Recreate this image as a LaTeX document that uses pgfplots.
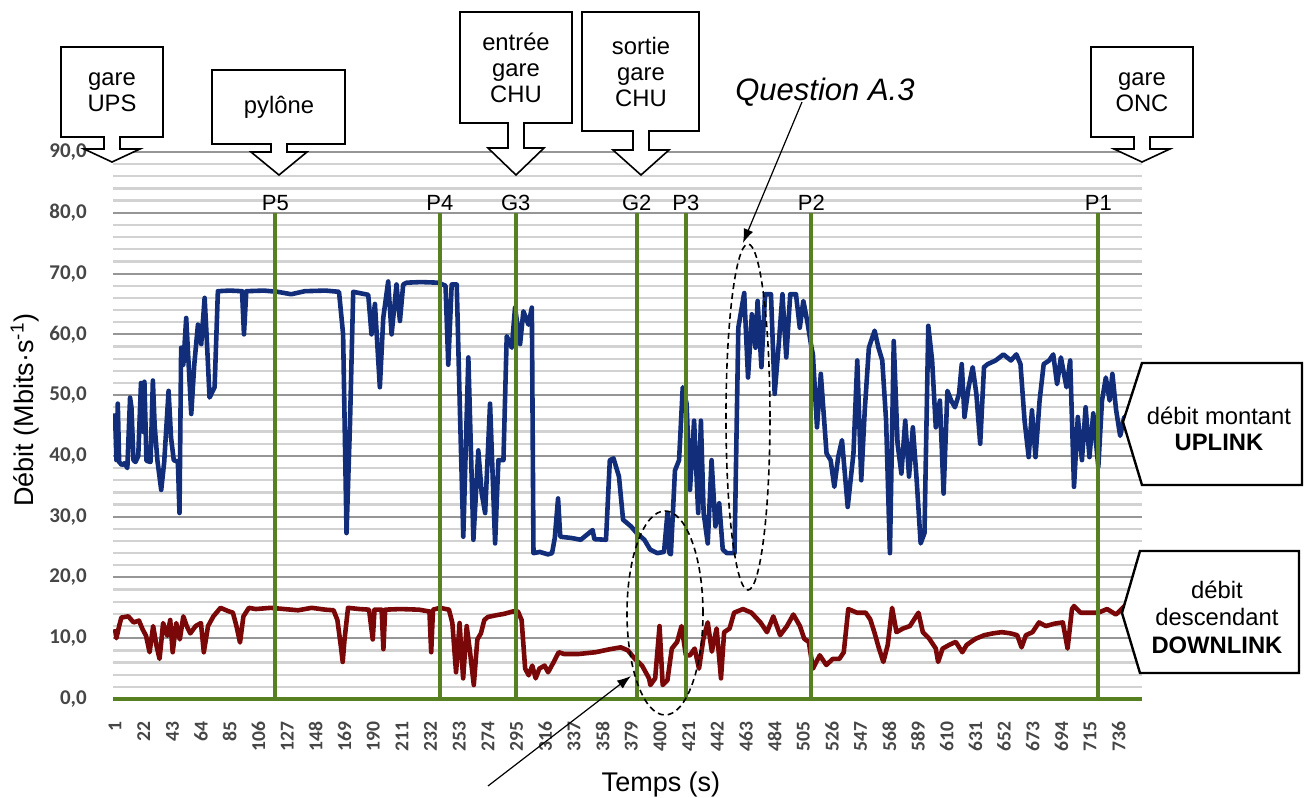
\documentclass[border=0pt]{standalone}
\usepackage{fontspec}
\setmainfont{Liberation Sans}
\newfontfamily\tickfont{Carlito}
\usepackage{pgfplots}
\pgfplotsset{compat=1.18}
\usetikzlibrary{arrows.meta}

\definecolor{upblue}{RGB}{18,46,122}
\definecolor{downred}{RGB}{122,8,8}
\definecolor{pgreen}{RGB}{86,128,34}
\definecolor{majgrid}{RGB}{150,150,150}
\definecolor{mingrid}{RGB}{210,210,210}
\definecolor{ticktext}{RGB}{70,70,70}

\newcommand\boxfont{\fontsize{11.9bp}{13bp}\selectfont}
\newcommand\pfont{\fontsize{11bp}{12bp}\selectfont}
% callout: L, R, T, B, centre, head top, tip, text
\newcommand\callout[8]{%
  \draw[line width=0.8bp, fill=white] (#1,#3) -- (#2,#3) -- (#2,#4) -- ({#5+8},#4) -- ({#5+8},#6)
    -- ({#5+28},#6) -- (#5,#7) -- ({#5-28},#6) -- ({#5-8},#6) -- ({#5-8},#4) -- (#1,#4) -- cycle;
  \node[align=center, font=\boxfont] at ({#5},{(#3+#4)/2}) {#8};
}

\begin{document}
\begin{tikzpicture}
\useasboundingbox (0,0) rectangle (654bp,-399bp);
\begin{axis}[
  at={(56.5bp,-349.5bp)}, anchor=south west,
  scale only axis, width=514.5bp, height=273.5bp,
  xmin=-0.5, xmax=753, ymin=0, ymax=90,
  axis x line=bottom, axis y line=left,
  x axis line style={-, pgreen, line width=1.6bp},
  y axis line style={draw=none},
  tick style={draw=none},
  xtick={1,22,...,736},
  ytick={0,10,...,90},
  minor ytick={2,4,6,8,12,14,16,18,22,24,26,28,32,34,36,38,42,44,46,48,52,54,56,58,62,64,66,68,72,74,76,78,82,84,86,88},
  ymajorgrids, yminorgrids,
  major grid style={majgrid, line width=1bp},
  minor grid style={mingrid, line width=1.15bp},
  /pgf/number format/assume math mode=true,
  yticklabel style={font=\tickfont\bfseries\fontsize{10.5bp}{12bp}\selectfont, text=ticktext, xshift=-7.5bp,
    /pgf/number format/.cd, fixed, fixed zerofill, precision=1, use comma},
  xticklabel style={font=\tickfont\bfseries\fontsize{9.8bp}{11bp}\selectfont, text=ticktext, yshift=-5.5bp, rotate=90, anchor=east},
]
% UPLINK
\addplot[upblue, line width=2.3bp, line join=round] coordinates {
(1,47) (2,39.3) (3,48.6) (4,39.0) (6,38.5) (8,38.8) (10,38.0) (12,49.6) (13,48) (14.5,39.3)
(16,39) (18,40) (20,52) (21.3,44) (22.5,52.2) (24,39.2) (27,39) (28.7,52.4) (30,45) (32,39.3)
(34.8,34.4) (37,39) (40.2,50.7) (42,43) (44,39.3) (47,39) (48.2,30.6) (49.4,57.8) (51,55) (53.1,62.7)
(56.8,46.9) (59,55) (61.7,61.6) (64.1,58.4) (66.6,66) (68,60) (70.2,49.6) (73.9,51.3) (76.3,67.1) (85,67.2)
(94,67.1) (95.4,60) (97.1,67.1) (110,67.2) (120,67) (130,66.6) (140,67.1) (155,67.2) (165,67) (168,60)
(170.5,27.3) (173,45) (175.4,67) (186.4,66.5) (188.8,60) (191.3,65) (194.9,51.3) (197.4,62.7) (201,68.7) (203.5,60)
(207.1,68.2) (209.6,62.2) (212,68.2) (214.5,68.5) (225,68.6) (237.7,68.5) (243,68) (245,55) (247.5,68.2) (251.2,68.2)
(253.6,46.9) (256,26.7) (259.7,56.2) (263.4,26.2) (267,40.9) (269.5,33.8) (272,30.6) (275.6,48.6) (279.3,25.6) (281.7,39.3)
(285.4,39.3) (287.8,59.7) (291.5,57.8) (293.9,64.4) (297.6,58.4) (300,63.8) (303.7,61.6) (306.2,64.4) (307.4,24) (312,24.2)
(318,23.8) (321,24) (323,26.5) (325.4,33) (327,26.7) (335,26.5) (342,26.2) (350.7,27.8) (352,26.3) (360.5,26.2)
(363.3,39.3) (366,39.6) (370,36.6) (373,29.5) (378.8,28.4) (383,27.3) (388.6,26.2) (392.8,24.6) (398,24) (403,24.2)
(405.5,30.6) (407,24) (408,23.8) (411,37.6) (414,39.3) (416.7,51.3) (419.5,48.6) (422,34.4) (425,45.8) (428,30.6)
(430,45.8) (432,30.6) (435,25.6) (437.8,39.3) (440.6,28.4) (443.4,32.2) (446,24.6) (449,24) (454.6,24) (457.4,61.1)
(461.7,66.8) (464.5,52.9) (467.3,63.3) (470,57.8) (471.5,65.5) (474.3,54.6) (477,66.6) (481.3,66.6) (484,50.2) (487,58.4)
(489.7,66.6) (492.5,56.2) (495.4,66.6) (499.6,66.6) (502.4,61.1) (505,65.5) (508,62) (511,57.8) (512,56.7) (515,44.7)
(517.8,53.5) (522,40.4) (525,39.3) (527.7,34.9) (530.5,39.8) (533.3,42.6) (537.5,31.6) (541.7,40.4) (544.5,55.7) (547.4,36)
(550,47.6) (553,57.8) (557.2,60.6) (560,57.8) (562.8,55.7) (565.6,45.8) (568.4,24) (571.2,58.9) (574,42) (576.8,37.1)
(579.6,45.8) (582.4,36.6) (585.2,44.7) (588,36) (590.9,25.6) (593.7,27.3) (596.5,61.4) (599.3,55.7) (602,44.7) (605,49.1)
(607.7,33.8) (610.5,50.7) (613.3,49.1) (616,48) (619,50.2) (621,55.1) (623,46.4) (626,51.3) (629,54.6) (631.7,50.2)
(634.5,42) (637.3,54.6) (640,55.1) (645.8,55.7) (651.5,56.7) (657,55.7) (661,56.7) (664,55.1) (667,45.8) (670,39.8)
(672.4,47.5) (675,39.8) (678,49.1) (681,55.1) (685,55.7) (688,56.7) (690.8,51.8) (693.6,56.2) (697.7,51.3) (700.4,55.7)
(703.2,34.9) (706,46.4) (709,39.3) (711.7,48) (714.5,39.8) (717.3,47) (721,38.2) (723.7,49.1) (726.5,52.9) (729.3,49.1)
(731.3,53.5) (734,47.6) (737,43.3) (740,46.4) (744,45.2) (749,45.8) (751,45.3)
};
% DOWNLINK
\addplot[downred, line width=2.3bp, line join=round] coordinates {
(1,11.5) (2,10) (4,12) (5.6,13.4) (10.7,13.6) (14.6,12.6) (18.5,12.9) (21.1,11.5) (23.7,10.4) (26.3,7.7)
(28.9,12) (31.5,8.6) (33.6,6.6) (36.2,12.5) (39.3,10.4) (41.4,13) (43.2,7.7) (45.8,12.5) (48.4,9.8) (51,13.6)
(53.5,12) (56.1,10.8) (60,12) (63.9,12.5) (66,7.7) (69.1,12) (73,13.6) (78.2,15) (83.4,14.5) (87.3,14.2)
(89.9,12) (92.5,9.3) (95,13.6) (99,15) (104,14.8) (115,15) (125,14.8) (135,14.6) (145,15) (155,14.7)
(161,14.6) (163.8,13) (166.4,8.6) (167.7,6.1) (169,9.7) (171.6,15) (180,14.8) (187,14.7) (189.7,9.8) (191,14.7)
(196.2,14.7) (197.5,8.2) (198.8,14.7) (210,14.8) (223.5,14.7) (231.2,14.4) (232.5,7.7) (233.8,14.7) (239,15) (245.5,14.7)
(248,12.5) (250.7,4.4) (253.3,12.5) (254.6,7.6) (255.9,3.4) (258.5,12) (261,7.6) (263.7,2.3) (266.3,9.8) (268.9,10.8)
(271.4,13) (274,13.5) (280.5,13.8) (285.7,14) (292.2,14.4) (296,14.4) (298.7,13) (301.3,5) (303.9,3.9) (306.5,5.5)
(309,3.4) (311.7,5) (315.5,5.5) (318.1,4.4) (322,6) (325.9,7.7) (329.8,7.4) (340.2,7.4) (353,7.7) (363.5,8.2)
(371.3,8.5) (376.5,8) (381.7,6.6) (386.9,5.5) (392,3.4) (393,2.3) (396.5,3.4) (399.7,12) (402,2.3) (405.5,3.1)
(408.7,8.3) (412.6,9.4) (415.8,12) (419,7.2) (422,7.2) (425.4,8.3) (428.6,5) (431.8,9.9) (435,12.6) (438,7.8)
(441.5,11.6) (444.7,3.4) (447,11) (451,11.6) (454.3,14.2) (460.8,14.8) (467,14.2) (473.6,12.6) (478.4,11) (483,13.6)
(488,10.5) (493,12) (497.7,13.9) (502.5,12) (505.7,9.9) (509,9.4) (512,5) (517,7.2) (521.8,5.6) (526.6,6.6)
(531.4,6.6) (534.6,7.7) (537.9,14.8) (544.3,14.2) (550.7,14.2) (554,13.1) (557,11) (560.4,8.3) (563.6,6.1) (566.8,8.9)
(570,15) (573.2,11) (578,11.6) (583,12) (589.3,14.2) (592.5,11) (597.3,9.9) (602,8.3) (603.7,6.1) (607,8.3)
(611.8,8.9) (616.6,9.4) (621.4,7.7) (624.6,8.9) (631,9.9) (637.5,10.5) (643.9,10.8) (650.3,11) (656.7,10.8) (661.6,10.5)
(664.8,8.5) (668,10.5) (672.8,11) (677.6,12.6) (682.5,12) (689,12.4) (695,12.6) (698.5,8.3) (701.7,14.8) (703.2,15.3)
(708,14.2) (714.4,14.2) (721,14.2) (727.4,14.8) (733.9,13.9) (740.3,15.3) (745,16.4) (748.2,16.4) (751,16)
};
% position markers
\addplot[pgreen, line width=2.1bp] coordinates {(118.4,0) (118.4,80)};
\addplot[pgreen, line width=2.1bp] coordinates {(238.9,0) (238.9,80)};
\addplot[pgreen, line width=2.1bp] coordinates {(294.4,0) (294.4,80)};
\addplot[pgreen, line width=2.1bp] coordinates {(383,0) (383,80)};
\addplot[pgreen, line width=2.1bp] coordinates {(419,0) (419,80)};
\addplot[pgreen, line width=2.1bp] coordinates {(510.9,0) (510.9,80)};
\addplot[pgreen, line width=2.1bp] coordinates {(721,0) (721,80)};
\node[font=\pfont, above, inner sep=1bp] at (axis cs:118.4,80) {P5};
\node[font=\pfont, above, inner sep=1bp] at (axis cs:238.9,80) {P4};
\node[font=\pfont, above, inner sep=1bp] at (axis cs:294.4,80) {G3};
\node[font=\pfont, above, inner sep=1bp] at (axis cs:383,80) {G2};
\node[font=\pfont, above, inner sep=1bp] at (axis cs:419,80) {P3};
\node[font=\pfont, above, inner sep=1bp] at (axis cs:510.9,80) {P2};
\node[font=\pfont, above, inner sep=1bp] at (axis cs:721,80) {P1};
\end{axis}

\begin{scope}[x=0.5bp, y=-0.5bp]
\callout{61}{163}{47}{137}{112}{149}{162}{gare\\UPS}
\callout{212}{345}{70}{144}{279}{152}{175}{pylône}
\callout{460}{572}{12}{123}{516}{148}{175}{entrée\\gare\\CHU}
\callout{582}{699}{12}{131}{641}{150}{175}{sortie\\gare\\CHU}
\callout{1091}{1193}{47}{137}{1142}{149}{162}{gare\\ONC}

\draw[line width=1.2bp, fill=white] (1123,422) -- (1142,363) -- (1302,363) -- (1302,485) -- (1142,485) -- cycle;
\node[align=center, font=\boxfont] at (1219,429) {débit montant\\\textbf{UPLINK}};
\draw[line width=1.2bp, fill=white] (1122,613) -- (1140,551) -- (1299,551) -- (1299,673) -- (1140,673) -- cycle;
\node[align=center, font=\fontsize{11.9bp}{13.8bp}\selectfont] at (1217,617) {débit\\descendant\\\textbf{DOWNLINK}};

\node[font=\itshape\fontsize{15.5bp}{18bp}\selectfont] at (825,92) {Question A.3};
\draw[line width=0.6bp, -{Latex[length=7bp,width=5bp]}] (802,102) -- (743,243);
\draw[line width=0.6bp, -{Latex[length=7bp,width=5bp]}] (488,786) -- (631,676);
\draw[line width=0.8bp, dash pattern=on 3bp off 2bp] (748,417) ellipse [x radius=11bp, y radius=86.5bp];
\draw[line width=0.8bp, dash pattern=on 3bp off 2bp] (665,613) ellipse [x radius=19bp, y radius=51bp];

\node[rotate=90, font=\fontsize{13.5bp}{15bp}\selectfont] at (25,410) {Débit (Mbits·s\textsuperscript{-1})};
\node[font=\fontsize{13.5bp}{15bp}\selectfont] at (661,785) {Temps (s)};
\end{scope}
\end{tikzpicture}
\end{document}
